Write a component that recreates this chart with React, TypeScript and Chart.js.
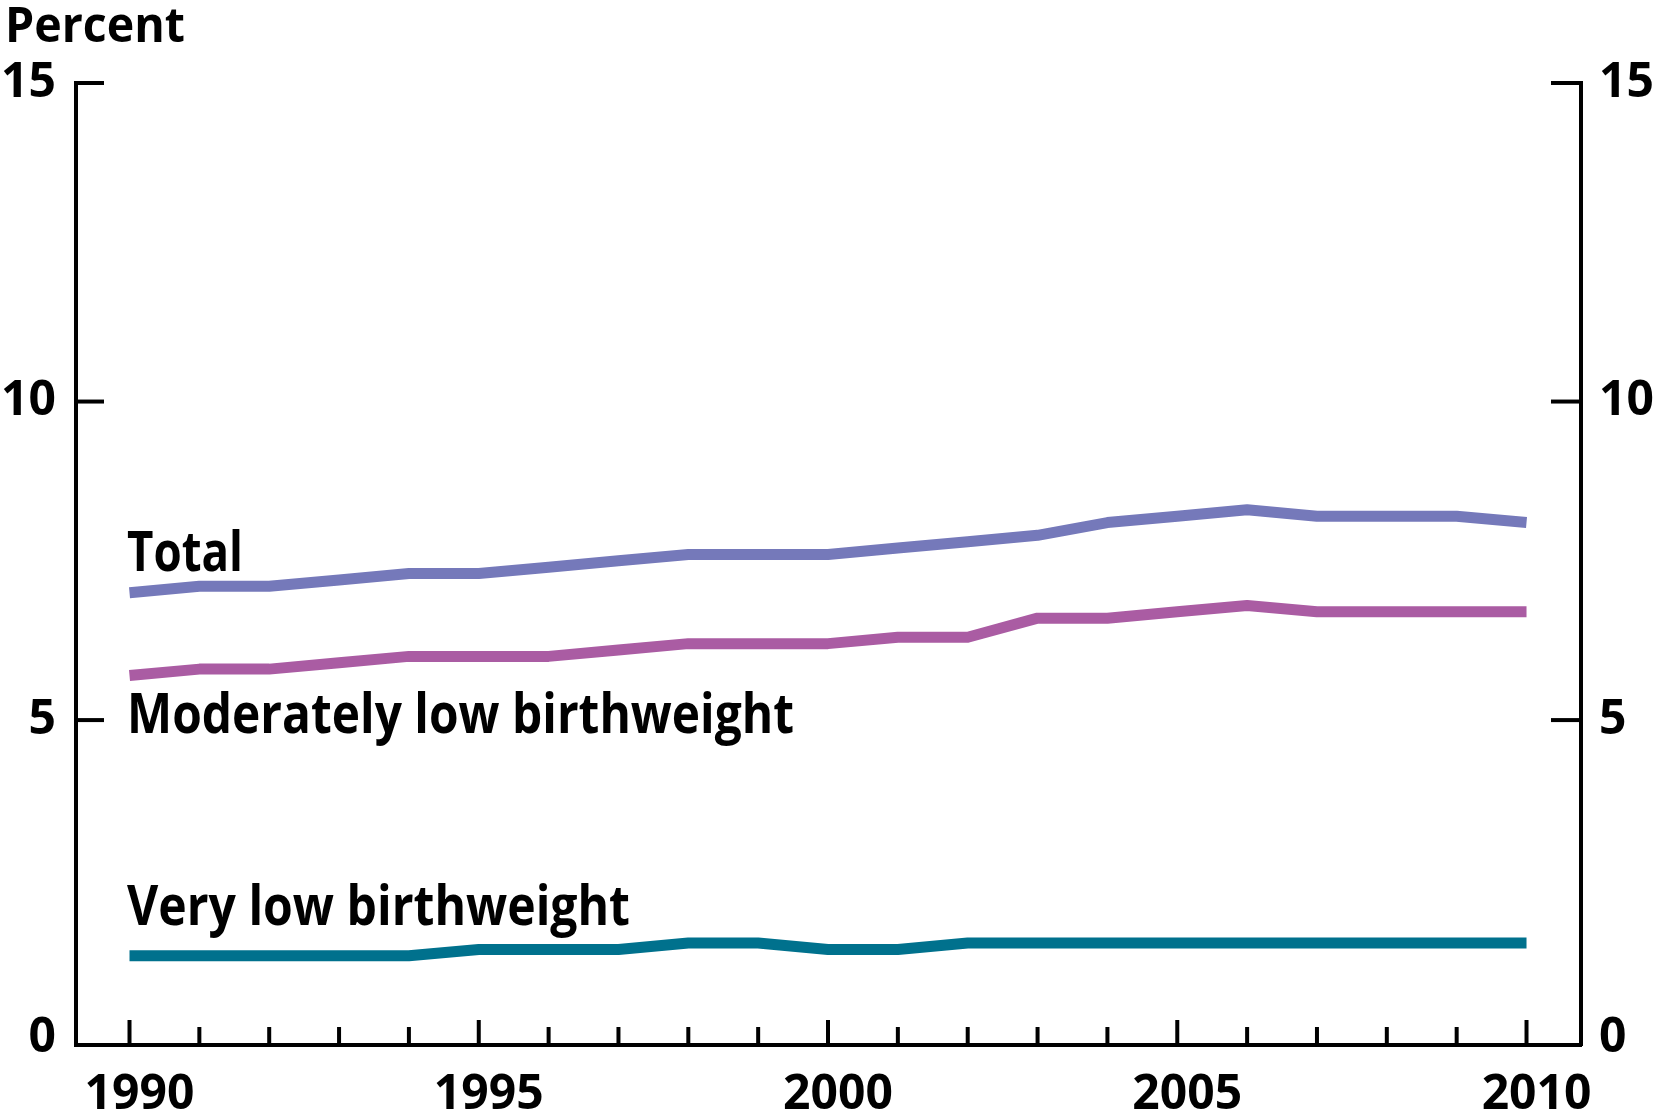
import { useEffect, useRef } from 'react';
import { Chart, registerables } from 'chart.js';

Chart.register(...registerables);

const years = [1990, 1991, 1992, 1993, 1994, 1995, 1996, 1997, 1998, 1999, 2000, 2001, 2002, 2003, 2004, 2005, 2006, 2007, 2008, 2009, 2010];
const totalValues = [7.0, 7.1, 7.1, 7.2, 7.3, 7.3, 7.4, 7.5, 7.6, 7.6, 7.6, 7.7, 7.8, 7.9, 8.1, 8.2, 8.3, 8.2, 8.2, 8.2, 8.1];
const moderateValues = [5.7, 5.8, 5.8, 5.9, 6.0, 6.0, 6.0, 6.1, 6.2, 6.2, 6.2, 6.3, 6.3, 6.6, 6.6, 6.7, 6.8, 6.7, 6.7, 6.7, 6.7];
const veryLowValues = [1.3, 1.3, 1.3, 1.3, 1.3, 1.4, 1.4, 1.4, 1.5, 1.5, 1.4, 1.4, 1.5, 1.5, 1.5, 1.5, 1.5, 1.5, 1.5, 1.5, 1.5];
const yTickValues = [0, 5, 10, 15];
const yInnerTickValues = [5, 10, 15];
const xLabelYears = [1990, 1995, 2000, 2005, 2010];
const seriesNames = ['Total', 'Moderately low birthweight', 'Very low birthweight'];
const axisTitle = 'Percent';

const FONT = '"Open Sans", "Noto Sans", sans-serif';

function drawFitted(ctx: CanvasRenderingContext2D, text: string, x: number, y: number, size: number, target: number) {
  ctx.save();
  ctx.font = `700 ${size}px ${FONT}`;
  ctx.fillStyle = '#000';
  ctx.textBaseline = 'alphabetic';
  ctx.textAlign = 'left';
  const w = ctx.measureText(text).width;
  ctx.translate(x, y);
  ctx.scale(target / w, 1);
  ctx.fillText(text, 0, 0);
  ctx.restore();
}

const decorPlugin = {
  id: 'decor',
  afterDraw(chart: any) {
    const ctx: CanvasRenderingContext2D = chart.ctx;
    const x = chart.scales.x;
    const y = chart.scales.y;
    const area = chart.chartArea;
    ctx.save();
    ctx.strokeStyle = '#000';
    ctx.lineWidth = 4;
    ctx.lineCap = 'butt';
    yInnerTickValues.forEach((v) => {
      const py = y.getPixelForValue(v);
      ctx.beginPath();
      ctx.moveTo(area.left - 2, py);
      ctx.lineTo(area.left + 28, py);
      ctx.stroke();
      ctx.beginPath();
      ctx.moveTo(area.right + 2, py);
      ctx.lineTo(area.right - 30, py);
      ctx.stroke();
    });
    years.forEach((yr) => {
      const px = x.getPixelForValue(yr);
      const len = yr % 5 === 0 ? 25 : 18;
      ctx.beginPath();
      ctx.moveTo(px, area.bottom);
      ctx.lineTo(px, area.bottom - len);
      ctx.stroke();
    });
    ctx.restore();
    drawFitted(ctx, axisTitle, 5, 42, 49, 180);
    drawFitted(ctx, seriesNames[0], 127, 571, 55, 116);
    drawFitted(ctx, seriesNames[1], 127, 733, 55, 667);
    drawFitted(ctx, seriesNames[2], 127, 925, 55, 503);
  },
};

export default function App() {
  const ref = useRef<HTMLCanvasElement | null>(null);
  useEffect(() => {
    if (!ref.current) return;
    const tickFont = { family: FONT, size: 48, weight: 700 as any };
    const mk = (vals: number[]) => years.map((yr, i) => ({ x: yr, y: vals[i] }));
    const chart = new Chart(ref.current, {
      type: 'line',
      data: {
        datasets: [
          { label: seriesNames[0], data: mk(totalValues), borderColor: '#7579BA', borderWidth: 11, pointRadius: 0, tension: 0, borderJoinStyle: 'round', yAxisID: 'y' },
          { label: seriesNames[1], data: mk(moderateValues), borderColor: '#AA5CA3', borderWidth: 11, pointRadius: 0, tension: 0, borderJoinStyle: 'round', yAxisID: 'y' },
          { label: seriesNames[2], data: mk(veryLowValues), borderColor: '#00718D', borderWidth: 11, pointRadius: 0, tension: 0, borderJoinStyle: 'round', yAxisID: 'y' },
        ],
      },
      options: {
        animation: false,
        responsive: false,
        devicePixelRatio: 1,
        layout: { padding: { top: 83, left: 0, right: 0, bottom: 0 } },
        plugins: { legend: { display: false }, tooltip: { enabled: false } },
        scales: {
          x: {
            type: 'linear',
            min: 1989.234,
            max: 2010.78,
            afterBuildTicks: (s: any) => { s.ticks = years.map((v) => ({ value: v })); },
            afterFit: (s: any) => { s.height = 70; },
            grid: { display: false },
            border: { display: true, color: '#000', width: 4 },
            ticks: {
              autoSkip: false,
              maxRotation: 0,
              minRotation: 0,
              labelOffset: 10,
              padding: 14,
              color: '#000',
              font: tickFont,
              callback: (v: any) => (xLabelYears.includes(Number(v)) ? String(v) : ''),
            },
          },
          y: {
            type: 'linear',
            position: 'left',
            min: -0.1,
            max: 15,
            afterBuildTicks: (s: any) => { s.ticks = yTickValues.map((v) => ({ value: v })); },
            afterFit: (s: any) => { s.width = 76; },
            grid: { display: false },
            border: { display: true, color: '#000', width: 4 },
            ticks: { padding: 12, color: '#000', font: tickFont, callback: (v: any) => String(v) },
          },
          y2: {
            type: 'linear',
            position: 'right',
            min: -0.1,
            max: 15,
            afterBuildTicks: (s: any) => { s.ticks = yTickValues.map((v) => ({ value: v })); },
            afterFit: (s: any) => { s.width = 74; },
            grid: { display: false },
            border: { display: true, color: '#000', width: 4 },
            ticks: { padding: 10, color: '#000', font: tickFont, callback: (v: any) => String(v) },
          },
        },
      },
      plugins: [decorPlugin],
    } as any);
    return () => chart.destroy();
  }, []);
  return (
    <div style={{ position: 'absolute', left: 0, top: 0, width: 1655, height: 1115, background: '#fff' }}>
      <canvas ref={ref} width={1655} height={1115} style={{ width: 1655, height: 1115, display: 'block' }} />
    </div>
  );
}
